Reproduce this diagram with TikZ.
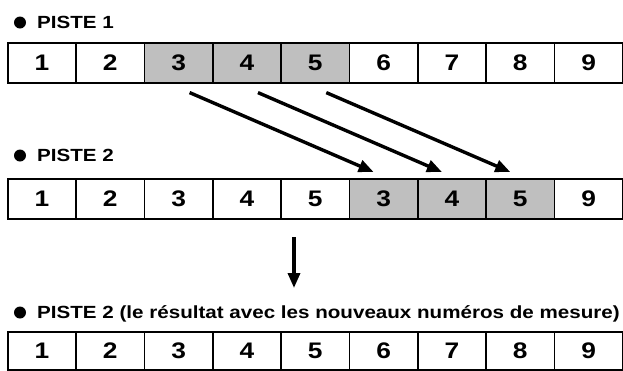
\documentclass[tikz,border=0pt]{standalone}
\usepackage{fontspec}
\setmainfont{Liberation Sans}
\newfontfamily\widefont[FakeStretch=1.17]{Liberation Sans Bold}
\usetikzlibrary{arrows.meta}
\begin{document}
\begin{tikzpicture}[x=1pt,y=-1pt,
  cell/.style={draw,line width=1.6pt,minimum width=68.33pt,minimum height=40pt,inner sep=0pt,
    font=\widefont\fontsize{22.5}{22}\selectfont,anchor=north west},
  shaded/.style={cell,fill=black!25},
  lbl/.style={anchor=base west,font=\widefont\fontsize{17.6}{18}\selectfont,inner sep=0pt},
  dot/.style={circle,fill=black,minimum size=12pt,inner sep=0pt},
  mv/.style={line width=3.4pt,-{Triangle[length=15pt,width=12pt]}}]
\useasboundingbox (0,0) rectangle (623,370);
% labels
\node[dot] (p1) at (20,22.5) {};
\node[lbl] (l1) at (37,28.5) {PISTE 1};
\node[dot] (p2) at (20,155.5) {};
\node[lbl] (l2) at (37,161.5) {PISTE 2};
\node[dot] (p3) at (20,312.5) {};
\node[lbl] (l3) at (37,318.5) {PISTE 2 (le résultat avec les nouveaux numéros de mesure)};
% row 1
\foreach \i/\t/\s in {1/1/cell,2/2/cell,3/3/shaded,4/4/shaded,5/5/shaded,6/6/cell,7/7/cell,8/8/cell,9/9/cell}
  \node[\s] (a\i) at ({7+(\i-1)*68.33},42) {\t};
% row 2
\foreach \i/\t/\s in {1/1/cell,2/2/cell,3/3/cell,4/4/cell,5/5/cell,6/3/shaded,7/4/shaded,8/5/shaded,9/9/cell}
  \node[\s] (b\i) at ({7+(\i-1)*68.33},178) {\t};
% row 3
\foreach \i in {1,...,9}
  \node[cell,minimum height=38pt] (c\i) at ({7+(\i-1)*68.33},331) {\i};
% moving arrows
\foreach \f/\g in {3/6,4/7,5/8}{
  \coordinate (s\f) at ([shift={(11,9)}]a\f.south);
  \coordinate (t\g) at ([shift={(-10,-6)}]b\g.north);
  \draw[mv] (s\f) -- (t\g);
}
% down arrow
\coordinate (d1) at (294,237);
\coordinate (d2) at (294,288);
\draw[mv] (d1) -- (d2);
\end{tikzpicture}
\end{document}
